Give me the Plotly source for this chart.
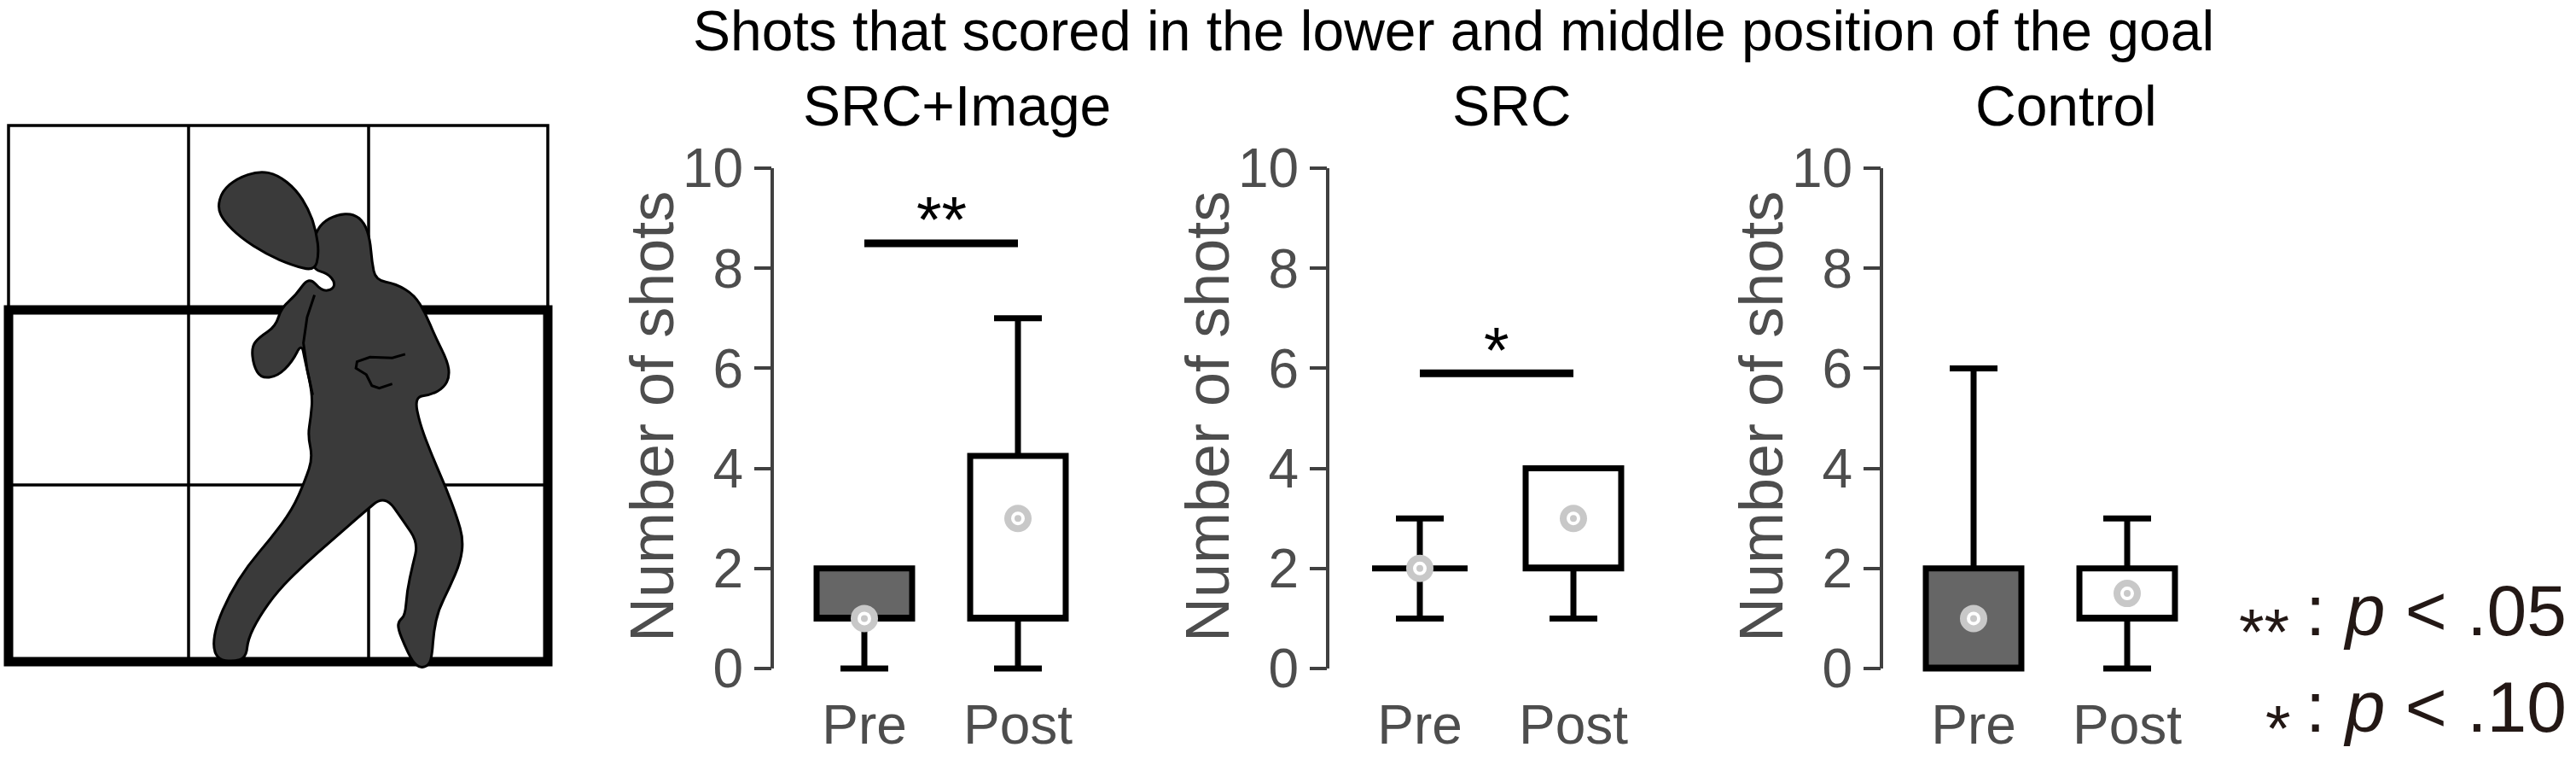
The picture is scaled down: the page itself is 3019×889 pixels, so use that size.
import plotly.graph_objects as go

W, H = 3019, 889
FONT = "Liberation Sans, Arial, Helvetica, sans-serif"

groups = ["SRC+Image", "SRC", "Control"]
phases = ["Pre", "Post"]

# box statistics, one entry per group
pre_low = [0, 1, 0]
pre_q1 = [1, 2, 0]
pre_med = [1, 2, 0]
pre_q3 = [2, 2, 2]
pre_high = [2, 3, 6]
pre_mean = [1, 2, 1]

post_low = [0, 1, 0]
post_q1 = [1, 2, 1]
post_med = [1, 2, 1]
post_q3 = [4.25, 4, 2]
post_high = [7, 4, 3]
post_mean = [3, 3, 1.5]

sig_level = [8.5, 5.9, None]
sig_text = ["**", "*", ""]

y_ticks = [0, 2, 4, 6, 8, 10]

# goal drawing traced in a 2.306x zoom starting at (0, 120)
body_pts = [
    (850, 360), (870, 325), (910, 303), (955, 300), (985, 325), (1000, 370), (1005, 430), (1015, 480),
    (1070, 490), (1120, 520), (1150, 570), (1175, 630), (1210, 700), (1215, 740), (1200, 770),
    (1165, 790), (1120, 795), (1135, 870), (1170, 960), (1205, 1040), (1235, 1120), (1252, 1180),
    (1245, 1240), (1215, 1310), (1185, 1370), (1172, 1430), (1168, 1490), (1160, 1520), (1135, 1528),
    (1115, 1510), (1095, 1470), (1075, 1420), (1078, 1400), (1095, 1385), (1100, 1320), (1115, 1250),
    (1130, 1190), (1090, 1130), (1040, 1060), (980, 1110), (900, 1180), (820, 1250), (750, 1320),
    (700, 1390), (670, 1450), (665, 1500), (630, 1510), (590, 1505), (575, 1470), (585, 1410),
    (620, 1330), (670, 1250), (730, 1180), (790, 1100), (825, 1020), (845, 960), (832, 900),
    (840, 850), (845, 790), (825, 700), (815, 650), (790, 700), (750, 740), (705, 745), (685, 710),
    (680, 660), (700, 635), (745, 605), (760, 555), (800, 520), (835, 470), (870, 510), (900, 505),
    (905, 485), (885, 462), (850, 452), (840, 420),
]
head_pts = [
    (588, 285), (600, 240), (640, 205), (700, 185), (750, 195), (800, 235), (835, 290), (855, 350),
    (862, 410), (850, 455), (790, 440), (720, 410), (650, 365), (605, 320),
]
hand_pts = [(1095, 680), (1060, 690), (1000, 688), (965, 700), (962, 718), (990, 735), (1005, 765),
            (1025, 772), (1060, 760)]
arm_pts = [(850, 520), (830, 580), (820, 650), (830, 720), (845, 790)]


def px(x):
    return x / W


def py(y):
    return 1 - y / H


def zoom_to_paper(p):
    return px(p[0] / 2.306), py(120 + p[1] / 2.306)


def smooth_path(pts, closed=True):
    pp = [zoom_to_paper(p) for p in pts]
    if not closed:
        return "M " + " L ".join(f"{x:.5f},{y:.5f}" for x, y in pp)
    n = len(pp)
    mids = [((pp[i][0] + pp[(i + 1) % n][0]) / 2, (pp[i][1] + pp[(i + 1) % n][1]) / 2) for i in range(n)]
    d = f"M {mids[-1][0]:.5f},{mids[-1][1]:.5f}"
    for i in range(n):
        d += f" Q {pp[i][0]:.5f},{pp[i][1]:.5f} {mids[i][0]:.5f},{mids[i][1]:.5f}"
    return d + " Z"


y0_px, y10_px = 783, 197
unit = (y0_px - y10_px) / 10
y_range = [-0.12, 10]
y_dom = [1 - (y0_px - y_range[0] * unit) / H, 1 - y10_px / H]
axis_left = [905, 1556, 2205]
x_range = [-0.6, 1.8]
x_unit = 180

fig = go.Figure()
layout = dict(
    width=W, height=H, margin=dict(l=0, r=0, t=0, b=0, autoexpand=False),
    paper_bgcolor="white", plot_bgcolor="white", showlegend=False,
    font=dict(family=FONT),
)
shapes = []
annotations = []

for i, g in enumerate(groups):
    n = "" if i == 0 else str(i + 1)
    xa, ya = "x" + n, "y" + n
    left = axis_left[i]
    right = left + (x_range[1] - x_range[0]) * x_unit
    layout["xaxis" + n] = dict(
        domain=[px(left), px(right)], range=x_range, anchor=ya, automargin=False,
        tickvals=[0, 1], ticktext=phases, ticks="", showline=False, showgrid=False, zeroline=False,
        ticklabelstandoff=16,
        tickfont=dict(size=64, color="#4d4d4d", family=FONT),
    )
    layout["yaxis" + n] = dict(
        domain=y_dom, range=y_range, anchor=xa, automargin=False,
        tickvals=y_ticks, ticks="outside", ticklen=20, tickwidth=4, tickcolor="#404040",
        showline=False, showgrid=False, zeroline=False,
        tickfont=dict(size=64, color="#4d4d4d", family=FONT),
    )
    stats = [
        (0, pre_low[i], pre_q1[i], pre_med[i], pre_q3[i], pre_high[i], "#666666"),
        (1, post_low[i], post_q1[i], post_med[i], post_q3[i], post_high[i], "white"),
    ]
    for xpos, lo, a, m, b, hi, fill in stats:
        fig.add_trace(go.Box(
            x=[xpos], lowerfence=[lo], q1=[a], median=[m], q3=[b], upperfence=[hi],
            width=0.622, whiskerwidth=0.5, fillcolor=fill,
            line=dict(color="black", width=7), xaxis=xa, yaxis=ya, hoverinfo="skip",
        ))
    fig.add_trace(go.Scatter(
        x=[0, 1], y=[pre_mean[i], post_mean[i]], mode="markers", xaxis=xa, yaxis=ya,
        marker=dict(symbol="circle", size=24, color="white", line=dict(color="#c8c8c8", width=8)),
        hoverinfo="skip",
    ))
    fig.add_trace(go.Scatter(
        x=[0, 1], y=[pre_mean[i], post_mean[i]], mode="markers", xaxis=xa, yaxis=ya,
        marker=dict(symbol="circle", size=8, color="#c8c8c8", line=dict(width=0)),
        hoverinfo="skip",
    ))
    # y axis line from 0 to 10
    shapes.append(dict(type="line", xref=xa + " domain", yref=ya, x0=0, x1=0, y0=0, y1=10,
                       line=dict(color="#404040", width=4)))
    if sig_level[i] is not None:
        shapes.append(dict(type="line", xref=xa, yref=ya, x0=0, x1=1, y0=sig_level[i], y1=sig_level[i],
                           line=dict(color="black", width=9)))
        annotations.append(dict(text=sig_text[i], xref=xa, yref=ya, x=0.5, y=sig_level[i] + 0.48,
                                xanchor="center", yanchor="middle", showarrow=False,
                                font=dict(size=76, color="black", family=FONT)))
    annotations.append(dict(text=g, xref="paper", yref="paper", x=px((left + right) / 2), y=py(124),
                            xanchor="center", yanchor="middle", showarrow=False,
                            font=dict(size=66, color="black", family=FONT)))
    annotations.append(dict(text="Number of shots", xref="paper", yref="paper", x=px(left - 141), y=py(488),
                            xanchor="center", yanchor="middle", textangle=-90, showarrow=False,
                            font=dict(size=72, color="#4d4d4d", family=FONT)))

annotations.append(dict(text="Shots that scored in the lower and middle position of the goal",
                        xref="paper", yref="paper", x=px(1703), y=py(36), xanchor="center", yanchor="middle",
                        showarrow=False, font=dict(size=66, color="black", family=FONT)))

# p-value key
key_col = "#231815"
for stars, label, sy, ty, sx in [("**", ": <i>p</i> < .05", 739, 715, 2653), ("*", ": <i>p</i> < .10", 852, 828, 2670)]:
    annotations.append(dict(text=stars, xref="paper", yref="paper", x=px(sx), y=py(sy),
                            xanchor="center", yanchor="middle", showarrow=False,
                            font=dict(size=76, color=key_col, family=FONT)))
    annotations.append(dict(text=label, xref="paper", yref="paper", x=px(2700), y=py(ty),
                            xanchor="left", yanchor="middle", align="left", showarrow=False,
                            font=dict(size=84, color=key_col, family=FONT)))

# goal grid
gx = [10, 221, 432, 642]
gy = [147, 363, 568, 775]
thin = dict(color="black", width=3.5)
shapes.append(dict(type="rect", xref="paper", yref="paper", x0=px(gx[0]), x1=px(gx[3]),
                   y0=py(gy[0]), y1=py(gy[1]), line=thin))
for xv in gx[1:3]:
    shapes.append(dict(type="line", xref="paper", yref="paper", x0=px(xv), x1=px(xv),
                       y0=py(gy[0]), y1=py(gy[3]), line=thin))
shapes.append(dict(type="line", xref="paper", yref="paper", x0=px(gx[0]), x1=px(gx[3]),
                   y0=py(gy[2]), y1=py(gy[2]), line=thin))
shapes.append(dict(type="rect", xref="paper", yref="paper", x0=px(gx[0]), x1=px(gx[3]),
                   y0=py(gy[1]), y1=py(gy[3]), line=dict(color="black", width=11)))

# silhouette
shapes.append(dict(type="path", xref="paper", yref="paper", path=smooth_path(body_pts),
                   fillcolor="#3a3a3a", line=dict(color="black", width=3)))
shapes.append(dict(type="path", xref="paper", yref="paper", path=smooth_path(head_pts),
                   fillcolor="#3a3a3a", line=dict(color="black", width=3)))
shapes.append(dict(type="path", xref="paper", yref="paper", path=smooth_path(hand_pts, closed=False),
                   line=dict(color="black", width=3)))
shapes.append(dict(type="path", xref="paper", yref="paper", path=smooth_path(arm_pts, closed=False),
                   line=dict(color="black", width=3)))

layout["shapes"] = shapes
layout["annotations"] = annotations
fig.update_layout(**layout)
# the page body has a default 8px margin; drop it so the figure fills the window
fig.write_html("out.html", config={"displayModeBar": False},
               post_script="document.body.style.margin = '0';")
